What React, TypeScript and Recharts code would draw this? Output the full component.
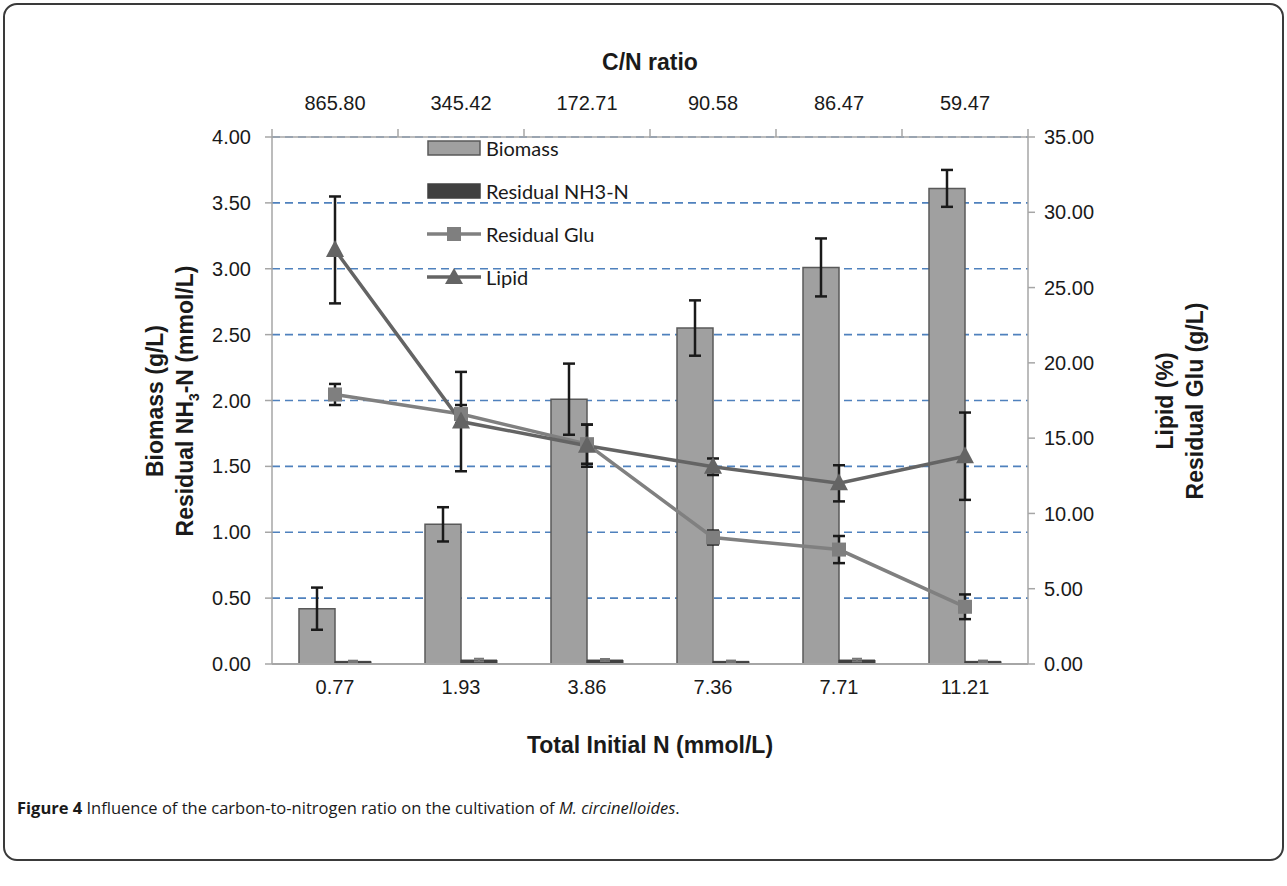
import { ComposedChart, Bar, Line, XAxis, YAxis, CartesianGrid, ErrorBar, Legend } from "recharts";

// values
const totalN = ["0.77", "1.93", "3.86", "7.36", "7.71", "11.21"];
const cnRatio = ["865.80", "345.42", "172.71", "90.58", "86.47", "59.47"];
const biomass = [0.42, 1.06, 2.01, 2.55, 3.01, 3.61];
const biomassErr = [0.16, 0.13, 0.27, 0.21, 0.22, 0.14];
const nh3 = [0.02, 0.03, 0.03, 0.02, 0.03, 0.02];
const nh3Err = [0.005, 0.01, 0.008, 0.006, 0.01, 0.006];
const glu = [17.9, 16.6, 14.6, 8.4, 7.6, 3.8];
const gluErr = [0.7, 0.6, 1.3, 0.46, 0.9, 0.82];
const lipid = [27.5, 16.1, 14.5, 13.1, 12.0, 13.8];
const lipidErr = [3.55, 3.3, 1.4, 0.55, 1.2, 2.9];
const leftTicks = [0, 0.5, 1, 1.5, 2, 2.5, 3, 3.5, 4];
const rightTicks = [0, 5, 10, 15, 20, 25, 30, 35];

const data = totalN.map((n, i) => ({
  n,
  cn: cnRatio[i],
  biomass: biomass[i],
  biomassErr: biomassErr[i],
  nh3: nh3[i],
  nh3Err: nh3Err[i],
  glu: glu[i],
  gluErr: gluErr[i],
  lipid: lipid[i],
  lipidErr: lipidErr[i],
}));

const W = 1287;
const H = 886;
const PLOT_LEFT = 272;
const PLOT_RIGHT = 1028;
const PLOT_TOP = 137;
const PLOT_BOTTOM = 664;
const HALF_BAND = (PLOT_RIGHT - PLOT_LEFT) / totalN.length / 2;

const axisFont = "'Liberation Sans', Arial, sans-serif";
const legendFont = "Lato, 'Open Sans', sans-serif";
const axisGray = "#a6a6a6";
const ink = "#1a1a1a";
const seriesOrder: Record<string, number> = { biomass: 0, nh3: 1, glu: 2, lipid: 3 };

const Square = (props: any) => {
  const { cx, cy, index } = props;
  if (cx == null || cy == null) return null;
  return <rect key={`sq-${index}`} x={cx - 7} y={cy - 7} width={14} height={14} fill="#7f7f7f" />;
};

const Triangle = (props: any) => {
  const { cx, cy, index } = props;
  if (cx == null || cy == null) return null;
  return (
    <polygon
      key={`tr-${index}`}
      points={`${cx},${cy - 10} ${cx - 9},${cy + 7} ${cx + 9},${cy + 7}`}
      fill="#646464"
    />
  );
};

const TopTick = (props: any) => {
  const { x, payload, index } = props;
  return (
    <g>
      <text
        x={x}
        y={PLOT_TOP - 34}
        dy="0.35em"
        textAnchor="middle"
        fill={ink}
        fontSize={20}
        fontFamily={axisFont}
      >
        {payload.value}
      </text>
      <line x1={x + HALF_BAND} y1={PLOT_TOP} x2={x + HALF_BAND} y2={PLOT_TOP - 8} stroke={axisGray} strokeWidth={1.5} />
      {index === 0 && (
        <line x1={x - HALF_BAND} y1={PLOT_TOP} x2={x - HALF_BAND} y2={PLOT_TOP - 8} stroke={axisGray} strokeWidth={1.5} />
      )}
    </g>
  );
};

const LegendBox = (props: any) => {
  const items = [...(props.payload || [])].sort(
    (a: any, b: any) => (seriesOrder[a.dataKey] ?? 9) - (seriesOrder[b.dataKey] ?? 9)
  );
  return (
    <div style={{ fontFamily: legendFont, fontSize: 20, color: ink }}>
      {items.map((it: any) => (
        <div key={it.value} style={{ height: 43, display: "flex", alignItems: "center" }}>
          <svg width={59} height={24} style={{ flex: "none" }}>
            {it.dataKey === "biomass" && <rect x={1} y={5} width={52} height={14} fill="#a0a0a0" stroke="#595959" strokeWidth={1.5} />}
            {it.dataKey === "nh3" && <rect x={1} y={5} width={52} height={14} fill="#404040" stroke="#404040" strokeWidth={1.5} />}
            {it.dataKey === "glu" && (
              <g>
                <line x1={0} y1={12} x2={54} y2={12} stroke="#808080" strokeWidth={3.5} />
                <rect x={20} y={5} width={14} height={14} fill="#7f7f7f" />
              </g>
            )}
            {it.dataKey === "lipid" && (
              <g>
                <line x1={0} y1={12} x2={54} y2={12} stroke="#646464" strokeWidth={3.5} />
                <polygon points="27,3 18,19 36,19" fill="#646464" />
              </g>
            )}
          </svg>
          <span style={{ whiteSpace: "nowrap" }}>{it.value}</span>
        </div>
      ))}
    </div>
  );
};

const titleStyle: any = {
  position: "absolute",
  fontFamily: axisFont,
  fontWeight: "bold",
  fontSize: 23,
  color: ink,
  textAlign: "center",
  whiteSpace: "nowrap",
};

export default function App() {
  return (
    <div style={{ position: "absolute", left: 0, top: 0, width: W, height: H, background: "#fff" }}>
      <div
        style={{
          position: "absolute",
          left: 3,
          top: 3,
          width: 1281,
          height: 858,
          border: "2px solid #3a3a3a",
          borderRadius: 14,
          boxSizing: "border-box",
        }}
      />
      <div style={{ position: "absolute", left: 0, top: 0 }}>
        <ComposedChart
          width={W}
          height={H}
          data={data}
          margin={{ top: PLOT_TOP - 50, left: PLOT_LEFT - 90, right: W - PLOT_RIGHT - 90, bottom: H - PLOT_BOTTOM - 40 }}
          barGap={0}
          barSize={36}
        >
          <CartesianGrid
            xAxisId="bottom"
            yAxisId="left"
            vertical={false}
            stroke="#4f81bd"
            strokeDasharray="8 5"
            strokeWidth={1.6}
          />
          <XAxis
            xAxisId="bottom"
            dataKey="n"
            height={40}
            interval={0}
            axisLine={{ stroke: axisGray, strokeWidth: 2 }}
            tickLine={false}
            tickSize={0}
            tickMargin={16}
            tick={{ fill: ink, fontSize: 20, fontFamily: axisFont }}
          />
          <XAxis
            xAxisId="top"
            orientation="top"
            dataKey="cn"
            height={50}
            interval={0}
            axisLine={{ stroke: axisGray, strokeWidth: 1.5 }}
            tickLine={false}
            tick={<TopTick />}
          />
          <YAxis
            yAxisId="left"
            width={90}
            domain={[0, 4]}
            ticks={leftTicks}
            interval={0}
            tickFormatter={(v: number) => v.toFixed(2)}
            axisLine={{ stroke: axisGray, strokeWidth: 1.5 }}
            tickLine={{ stroke: axisGray, strokeWidth: 1.5 }}
            tickSize={7}
            tickMargin={14}
            tick={{ fill: ink, fontSize: 20, fontFamily: axisFont }}
          />
          <YAxis
            yAxisId="right"
            orientation="right"
            width={90}
            domain={[0, 35]}
            ticks={rightTicks}
            interval={0}
            tickFormatter={(v: number) => v.toFixed(2)}
            axisLine={{ stroke: axisGray, strokeWidth: 1.5 }}
            tickLine={{ stroke: axisGray, strokeWidth: 1.5 }}
            tickSize={7}
            tickMargin={9}
            tick={{ fill: ink, fontSize: 20, fontFamily: axisFont, textAnchor: "start" }}
          />
          <Bar
            xAxisId="bottom"
            yAxisId="left"
            dataKey="biomass"
            name="Biomass"
            fill="#a0a0a0"
            stroke="#595959"
            strokeWidth={1.5}
            isAnimationActive={false}
          >
            <ErrorBar dataKey="biomassErr" direction="y" width={6} stroke="#1a1a1a" strokeWidth={2.5} />
          </Bar>
          <Bar
            xAxisId="bottom"
            yAxisId="left"
            dataKey="nh3"
            name="Residual NH3-N"
            fill="#404040"
            stroke="#404040"
            strokeWidth={1}
            isAnimationActive={false}
          >
            <ErrorBar dataKey="nh3Err" direction="y" width={5} stroke="#777" strokeWidth={2} />
          </Bar>
          <Line
            xAxisId="bottom"
            yAxisId="right"
            dataKey="glu"
            name="Residual Glu"
            stroke="#808080"
            strokeWidth={3.5}
            dot={<Square />}
            activeDot={false}
            isAnimationActive={false}
          >
            <ErrorBar dataKey="gluErr" direction="y" width={6} stroke="#1a1a1a" strokeWidth={2.5} />
          </Line>
          <Line
            xAxisId="bottom"
            yAxisId="right"
            dataKey="lipid"
            name="Lipid"
            stroke="#646464"
            strokeWidth={3.5}
            dot={<Triangle />}
            activeDot={false}
            isAnimationActive={false}
          >
            <ErrorBar dataKey="lipidErr" direction="y" width={6} stroke="#1a1a1a" strokeWidth={2.5} />
          </Line>
          <Legend
            layout="vertical"
            align="center"
            verticalAlign="middle"
            content={<LegendBox />}
            wrapperStyle={{ left: 427, top: 126, width: 330, height: 175 }}
          />
        </ComposedChart>
      </div>

      <div style={{ ...titleStyle, left: PLOT_LEFT, width: PLOT_RIGHT - PLOT_LEFT, top: 48, lineHeight: "28px" }}>C/N ratio</div>
      <div style={{ ...titleStyle, left: PLOT_LEFT, width: PLOT_RIGHT - PLOT_LEFT, top: 731, lineHeight: "28px" }}>
        Total Initial N (mmol/L)
      </div>
      <div
        style={{
          ...titleStyle,
          left: 170 - 250,
          top: (PLOT_TOP + PLOT_BOTTOM) / 2 - 30,
          width: 500,
          height: 60,
          lineHeight: "30px",
          transform: "rotate(-90deg)",
        }}
      >
        <div>Biomass (g/L)</div>
        <div>
          Residual NH<sub style={{ fontSize: "0.6em", lineHeight: 0 }}>3</sub>-N (mmol/L)
        </div>
      </div>
      <div
        style={{
          ...titleStyle,
          left: 1180 - 250,
          top: (PLOT_TOP + PLOT_BOTTOM) / 2 - 30,
          width: 500,
          height: 60,
          lineHeight: "30px",
          transform: "rotate(-90deg)",
        }}
      >
        <div>Lipid (%)</div>
        <div>Residual Glu (g/L)</div>
      </div>
      <div
        style={{
          position: "absolute",
          left: 17,
          top: 797,
          fontFamily: "'Open Sans', sans-serif",
          fontSize: 16.5,
          lineHeight: "22px",
          color: ink,
          whiteSpace: "nowrap",
        }}
      >
        <b>Figure 4</b> Influence of the carbon-to-nitrogen ratio on the cultivation of <i>M. circinelloides</i>.
      </div>
    </div>
  );
}
